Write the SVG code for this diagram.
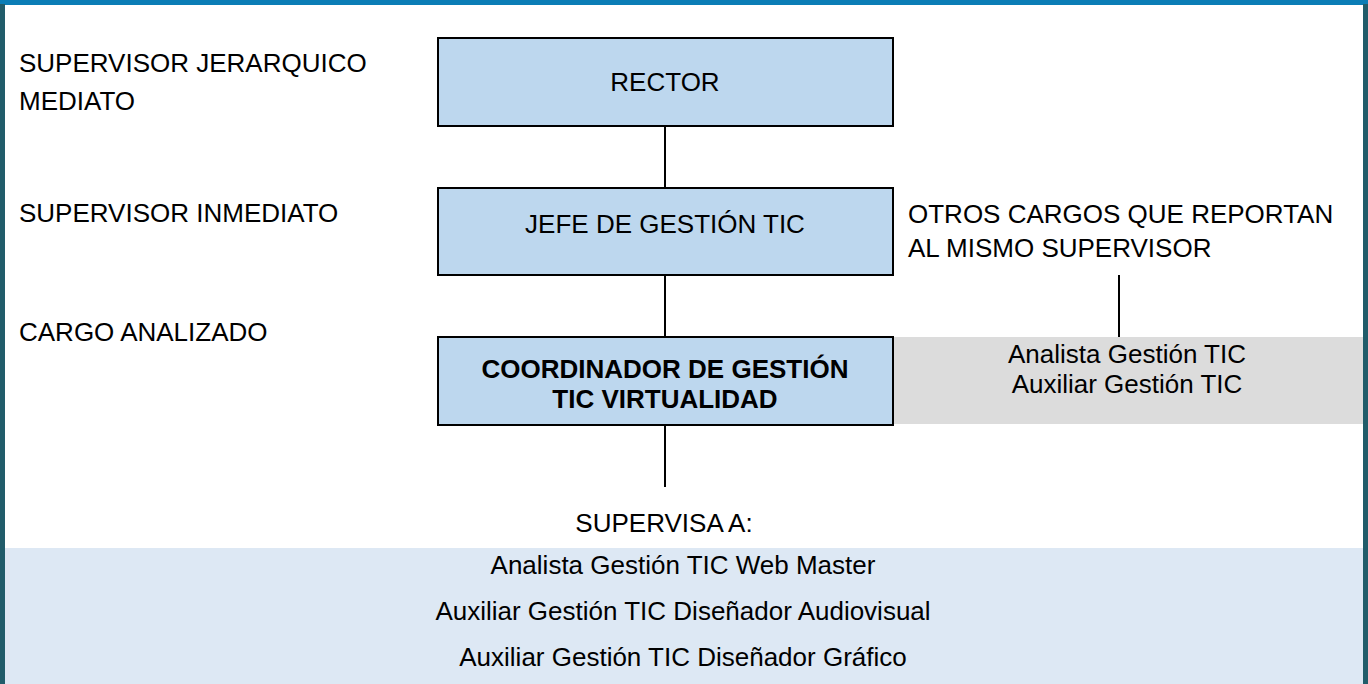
<svg xmlns="http://www.w3.org/2000/svg" width="1368" height="684" viewBox="0 0 1368 684">
  <style>
    text { font-family: "Liberation Sans", Arial, sans-serif; font-size: 26px; fill: #000; }
    .c { text-anchor: middle; }
    .b { font-weight: bold; }
    .box { fill: #bdd7ee; stroke: #000; stroke-width: 2; }
    .conn { stroke: #000; stroke-width: 2; fill: none; }
  </style>
  <rect x="0" y="0" width="1368" height="684" fill="#ffffff"/>
  <g id="frame">
    <rect x="0" y="0" width="1368" height="5" fill="#0b7db6"/>
    <rect x="0" y="4" width="5" height="680" fill="#215c6a"/>
    <rect x="1363" y="4" width="5" height="680" fill="#215c6a"/>
  </g>
  <g id="level-labels">
    <text x="19" y="72">SUPERVISOR JERARQUICO</text>
    <text x="19" y="110">MEDIATO</text>
    <text x="19" y="222">SUPERVISOR INMEDIATO</text>
    <text x="19" y="341">CARGO ANALIZADO</text>
  </g>
  <g id="connectors">
    <line class="conn" x1="665" y1="127" x2="665" y2="188"/>
    <line class="conn" x1="665" y1="275" x2="665" y2="337"/>
    <line class="conn" x1="665" y1="425" x2="665" y2="487"/>
    <line class="conn" x1="1119" y1="275" x2="1119" y2="337"/>
  </g>
  <g id="node-rector">
    <rect class="box" x="438" y="38" width="455" height="88"/>
    <text class="c" x="665" y="91">RECTOR</text>
  </g>
  <g id="node-jefe">
    <rect class="box" x="438" y="188" width="455" height="87"/>
    <text class="c" x="665" y="233">JEFE DE GESTIÓN TIC</text>
  </g>
  <g id="node-otros">
    <text x="908" y="223">OTROS CARGOS QUE REPORTAN</text>
    <text x="908" y="257">AL MISMO SUPERVISOR</text>
  </g>
  <g id="node-pares">
    <rect x="893" y="337" width="470" height="87" fill="#dcdcdc"/>
    <text class="c" x="1127" y="363">Analista Gestión TIC</text>
    <text class="c" x="1127" y="393">Auxiliar Gestión TIC</text>
  </g>
  <g id="node-coordinador">
    <rect class="box" x="438" y="337" width="455" height="88"/>
    <text class="c b" x="665" y="378">COORDINADOR DE GESTIÓN</text>
    <text class="c b" x="665" y="408">TIC VIRTUALIDAD</text>
  </g>
  <g id="node-supervisa">
    <text class="c" x="664" y="532">SUPERVISA A:</text>
  </g>
  <g id="node-subordinados">
    <rect x="5" y="548" width="1358" height="136" fill="#dde8f4"/>
    <text class="c" x="683" y="574">Analista Gestión TIC Web Master</text>
    <text class="c" x="683" y="620">Auxiliar Gestión TIC Diseñador Audiovisual</text>
    <text class="c" x="683" y="666">Auxiliar Gestión TIC Diseñador Gráfico</text>
  </g>
</svg>
